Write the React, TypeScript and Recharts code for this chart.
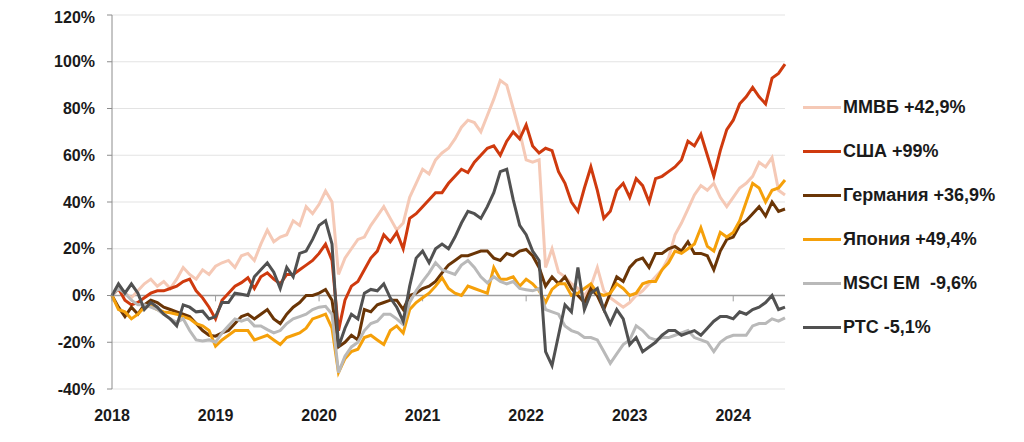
import { LineChart, Line, XAxis, YAxis, CartesianGrid, ReferenceLine } from "recharts";

// x positions are steps of 1/16 year starting Jan 2018 (16 steps per year)
const YEARS = ["2018", "2019", "2020", "2021", "2022", "2023", "2024"];
const YEAR_TICKS = [0, 16, 32, 48, 64, 80, 96];
const Y_TICKS = [-40, -20, 0, 20, 40, 60, 80, 100, 120];

const MMVB = [
  0, 3, 1, -1, 2, 5, 7, 4, 6, 3,
  7, 12, 9, 7, 11, 9, 12.5, 14, 15, 12,
  17, 18, 15, 22, 28, 23, 25, 26, 32, 30,
  38, 35, 39, 44.7, 40, 9, 16, 20, 24, 25,
  30, 34, 38, 33, 28, 31, 42, 48, 54, 52,
  58, 61, 63, 67, 72, 75, 74, 70, 77, 84,
  92, 90, 80, 70, 58, 57, 58, 12, 20, 10,
  8, 5, 3, 0, 4, 12, 2, -1, -3, -5,
  -3, 0, 2, 5, 8, 11, 16, 26, 31, 37,
  43, 47, 45, 48, 42, 38, 42, 46, 48, 51,
  57, 55, 59, 45, 43,
];

const USA = [
  0, 3, -2, -4, -3, -1, 1, 2, 2, 3,
  4, 6, 7, 2, -1, -5, -10, -2, 1, 4,
  5.5, 7.6, 3, 8, 9.7, 7, 5, 9, 9, 11,
  13, 15, 18, 22, 15, -15, -2, 4, 6, 11,
  16, 19, 26, 23, 27, 20, 33, 35, 38, 41,
  44, 44, 48, 51, 54, 52.6, 57, 60, 63, 64,
  60, 66, 70, 67, 73, 64, 61, 63, 62, 53,
  48, 40, 36, 46, 55, 45, 33, 36, 45, 48,
  42, 50, 47, 40, 50, 51, 53, 55, 58, 66,
  64, 69, 60, 51, 62, 71, 75, 82, 85, 89,
  85, 82, 93, 95, 99,
];

const GERMANY = [
  0, -5, -9, -5, -8, -4, -2, -3, -5, -6,
  -7, -8, -9, -12, -15, -17, -17.4, -16, -15, -12,
  -9, -8, -10, -8, -6, -10, -12, -8, -5, -3,
  0, 0, 1, 2.6, -2, -22, -20, -17, -19, -6,
  -7, -4, -3, -2, -2, -6, 0, 1, 3, 4,
  6, 9.7, 13, 15, 17, 17, 18, 19, 19, 16,
  15, 18, 17, 19, 19.7, 17, 12, 4, 8, 5,
  8, 3, 0, -3, 3, 0, -6, 1, 8, 6,
  12, 15, 16, 12, 18, 18, 20, 21, 19, 23,
  18, 18, 17, 11, 19, 24, 25, 30, 32, 35,
  38, 34, 40, 36, 37,
];

const JAPAN = [
  0, -6, -7, -10, -8, -5, -4.5, -6, -7, -7.4,
  -8, -9, -10, -12, -13, -15, -21.7, -19, -17, -15,
  -15, -15, -19, -18, -17, -19, -21, -18, -17, -16,
  -14, -10, -9, -8, -14, -33, -27, -24, -23, -18,
  -17, -19, -21, -15, -13, -16, -6, -3, -1, 1,
  4, 7.6, 3, 1, 0, 4, 3, 2, 1, 12,
  7, 7, 8, 4, 7, 5, 2, -3, 2.6, 5,
  5, 0, 1, 3, 5, 1, 0, 1, 5, 3,
  0, 1, 5, 6, 6, 11, 14, 19, 18, 20,
  22, 29, 21, 19, 27, 25, 27, 32, 40, 48,
  46, 40, 45, 46, 49.4,
];

const MSCI_EM = [
  0, 3, 1, -2, -4, -4, -5, -6, -8, -10,
  -11.5, -10, -15, -19, -19.5, -19, -20, -16, -13, -10,
  -11, -10, -13, -13, -14.6, -16, -15, -12, -10, -9,
  -8, -6, -5, -4.6, -8, -33, -26, -22, -20, -15,
  -12, -11, -8, -8, -10, -12.4, -3, 2, 6, 9.7,
  14, 11, 10, 9, 13, 15, 12, 8, 5.4, 8,
  6, 5, 6, 3, 2.5, 2, 3, -6, -7, -8,
  -13, -15, -16, -18, -18, -19, -24, -29, -25, -21,
  -19, -13, -15, -18, -19, -18, -18, -17, -16, -15,
  -18, -19, -20, -24, -20, -18, -17, -17, -17, -13,
  -12, -12, -10, -11, -9.6,
];

const RTS = [
  0, 5, 1, 5, 1, -6, -3, -5, -8, -10,
  -13, -4, -5, -7, -6.7, -10, -9, -3, -3, 1,
  0.5, 0, 8, 11, 14, 10, 3, 12, 8, 18,
  19, 24, 30, 32, 22, -22, -14, -8, -10, 1,
  2.6, 2, 5, -1, -5, -11, 4, 16, 19, 14,
  20, 22, 20, 25, 31, 36, 35, 33, 38, 44,
  53, 54, 41, 30, 26, 19, 15, -24, -30, -17,
  -4, -7, 12, -6, 1, 3, -6, -12, -6, -10,
  -21, -18, -24, -22, -20, -17, -15, -15, -17, -16,
  -15, -17, -14, -11, -9, -9, -10, -7, -8, -6,
  -5, -3, 0, -6, -5,
];

const SERIES = [
  { key: "mmvb", name: "ММВБ +42,9%", color: "#f5c9b6", values: MMVB },
  { key: "usa", name: "США +99%", color: "#cf3a0e", values: USA },
  { key: "germany", name: "Германия +36,9%", color: "#6a3506", values: GERMANY },
  { key: "japan", name: "Япония +49,4%", color: "#f5a00a", values: JAPAN },
  { key: "msci", name: "MSCI EM  -9,6%", color: "#b9b9b9", values: MSCI_EM },
  { key: "rts", name: "РТС -5,1%", color: "#515151", values: RTS },
];

const data = MMVB.map((_, i) => {
  const row: any = { t: i };
  SERIES.forEach((s) => {
    row[s.key] = s.values[i];
  });
  return row;
});

const FONT = "'Liberation Sans', Arial, sans-serif";

export default function App() {
  return (
    <div style={{ position: "relative", width: 1000, height: 426, fontFamily: FONT }}>
      <LineChart
        width={1000}
        height={426}
        data={data}
        margin={{ top: 7, right: 223, left: 0, bottom: 0 }}
      >
        <CartesianGrid vertical={false} stroke="#e3e3e3" strokeWidth={1} />
        <XAxis
          dataKey="t"
          type="number"
          domain={[0, 104]}
          ticks={YEAR_TICKS}
          tickFormatter={(v: number) => YEARS[YEAR_TICKS.indexOf(v)]}
          axisLine={false}
          tickLine={false}
          tickSize={0}
          tickMargin={21}
          height={45}
          tick={{ fill: "#1a1a1a", fontSize: 16, fontWeight: 700, fontFamily: FONT }}
        />
        <YAxis
          type="number"
          domain={[-40, 120]}
          ticks={Y_TICKS}
          tickFormatter={(v: number) => `${v}%`}
          width={104}
          axisLine={{ stroke: "#8c8c8c", strokeWidth: 1 }}
          tickLine={{ stroke: "#8c8c8c" }}
          tickSize={5}
          tickMargin={12}
          tick={{ fill: "#1a1a1a", fontSize: 16, fontWeight: 700, fontFamily: FONT }}
        />
        <ReferenceLine y={0} stroke="#9e9e9e" strokeWidth={1.5} />
        {YEAR_TICKS.map((t) => (
          <ReferenceLine
            key={t}
            segment={[
              { x: t, y: 0 },
              { x: t, y: -2.5 },
            ]}
            stroke="#9e9e9e"
          />
        ))}
        {SERIES.map((s) => (
          <Line
            key={s.key}
            dataKey={s.key}
            name={s.name}
            stroke={s.color}
            strokeWidth={3}
            dot={false}
            type="linear"
            isAnimationActive={false}
          />
        ))}
      </LineChart>
      <div style={{ position: "absolute", left: 795, top: 77 }}>
        {SERIES.map((s) => (
          <div
            key={s.key}
            style={{ display: "flex", alignItems: "center", height: 44 }}
          >
            <span
              style={{ display: "inline-block", width: 38, height: 3, background: s.color, marginRight: 2 }}
            />
            <span
              style={{ fontSize: 18, fontWeight: 700, color: "#1a1a1a", whiteSpace: "pre" }}
            >
              {s.name}
            </span>
          </div>
        ))}
      </div>
    </div>
  );
}
